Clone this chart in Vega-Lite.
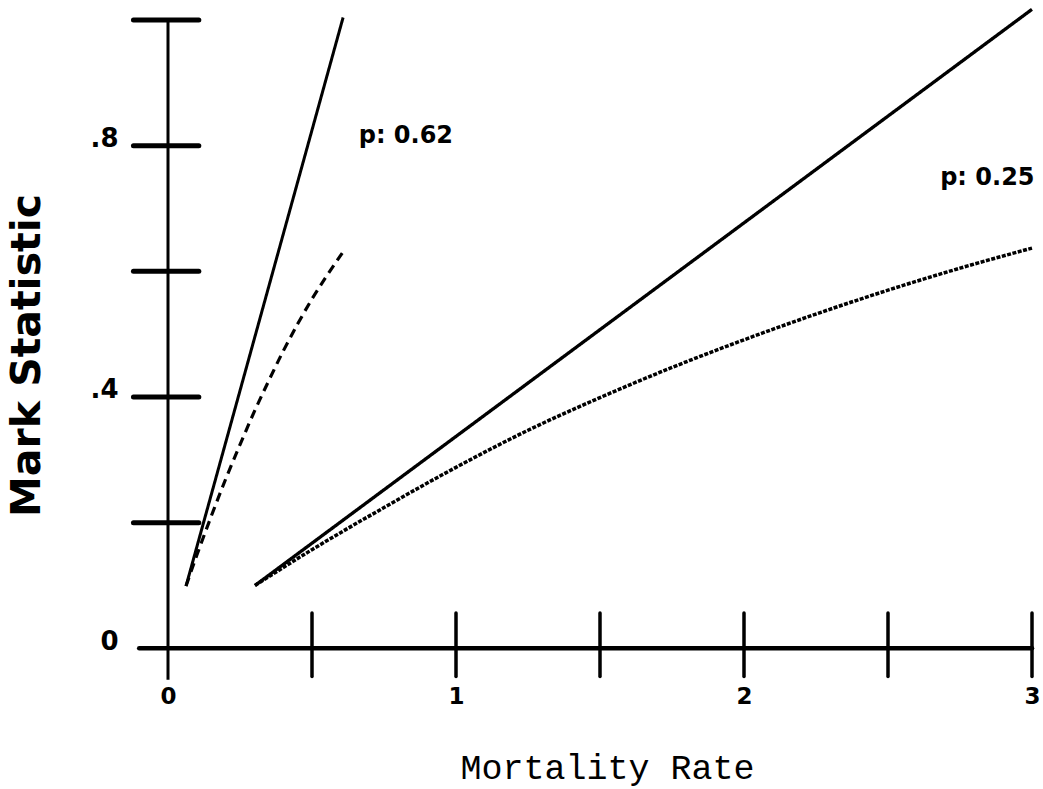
{
  "$schema": "https://vega.github.io/schema/vega-lite/v6.json",
  "width": 900,
  "height": 666,
  "autosize": {"type": "none"},
  "padding": {"left": 132, "top": 20, "right": 11, "bottom": 103},
  "background": "white",
  "config": {"view": {"stroke": null}},
  "datasets": {
    "xaxis": [{"x": -0.1, "x2": 3.0, "y": 0}],
    "yaxis": [{"x": 0, "y": -0.05, "y2": 1.0}],
    "xticks": [
      {"x": 0.5, "y": -0.045, "y2": 0.056},
      {"x": 1.0, "y": -0.045, "y2": 0.056},
      {"x": 1.5, "y": -0.045, "y2": 0.056},
      {"x": 2.0, "y": -0.045, "y2": 0.056},
      {"x": 2.5, "y": -0.045, "y2": 0.056},
      {"x": 3.0, "y": -0.045, "y2": 0.056}
    ],
    "yticks": [
      {"y": 0.2, "x": -0.12, "x2": 0.107},
      {"y": 0.4, "x": -0.12, "x2": 0.107},
      {"y": 0.6, "x": -0.12, "x2": 0.107},
      {"y": 0.8, "x": -0.12, "x2": 0.107},
      {"y": 1.0, "x": -0.12, "x2": 0.107}
    ],
    "curves": [
      {"curve": "p0.62 true", "x": 0.0625, "y": 0.099},
      {"curve": "p0.62 true", "x": 0.608, "y": 1.004},
      {"curve": "p0.62 estimate", "x": 0.0625, "y": 0.099},
      {"curve": "p0.62 estimate", "x": 0.1, "y": 0.148},
      {"curve": "p0.62 estimate", "x": 0.15, "y": 0.21},
      {"curve": "p0.62 estimate", "x": 0.2, "y": 0.269},
      {"curve": "p0.62 estimate", "x": 0.25, "y": 0.324},
      {"curve": "p0.62 estimate", "x": 0.3, "y": 0.377},
      {"curve": "p0.62 estimate", "x": 0.35, "y": 0.426},
      {"curve": "p0.62 estimate", "x": 0.4, "y": 0.473},
      {"curve": "p0.62 estimate", "x": 0.45, "y": 0.516},
      {"curve": "p0.62 estimate", "x": 0.5, "y": 0.556},
      {"curve": "p0.62 estimate", "x": 0.55, "y": 0.592},
      {"curve": "p0.62 estimate", "x": 0.608, "y": 0.631},
      {"curve": "p0.25 true", "x": 0.302, "y": 0.1},
      {"curve": "p0.25 true", "x": 3.0, "y": 1.017},
      {"curve": "p0.25 estimate", "x": 0.302, "y": 0.1},
      {"curve": "p0.25 estimate", "x": 0.5, "y": 0.157},
      {"curve": "p0.25 estimate", "x": 0.75, "y": 0.224},
      {"curve": "p0.25 estimate", "x": 1.0, "y": 0.288},
      {"curve": "p0.25 estimate", "x": 1.25, "y": 0.347},
      {"curve": "p0.25 estimate", "x": 1.5, "y": 0.399},
      {"curve": "p0.25 estimate", "x": 1.75, "y": 0.447},
      {"curve": "p0.25 estimate", "x": 2.0, "y": 0.491},
      {"curve": "p0.25 estimate", "x": 2.25, "y": 0.532},
      {"curve": "p0.25 estimate", "x": 2.5, "y": 0.57},
      {"curve": "p0.25 estimate", "x": 2.75, "y": 0.605},
      {"curve": "p0.25 estimate", "x": 3.0, "y": 0.637}
    ],
    "labels": [
      {"x": 0.826, "y": 0.816, "label": "p: 0.62"},
      {"x": 2.845, "y": 0.749, "label": "p: 0.25"}
    ]
  },
  "layer": [
    {
      "data": {"name": "xaxis"},
      "mark": {"type": "rule", "color": "black", "strokeWidth": 4.5, "strokeCap": "round"},
      "encoding": {
        "x": {
          "field": "x", "type": "quantitative",
          "scale": {"domain": [-0.125, 3], "nice": false, "zero": false},
          "axis": {
            "values": [0, 1, 2, 3],
            "format": "d",
            "domain": false, "ticks": false, "tickSize": 0, "grid": false,
            "labelPadding": 10, "labelBaseline": "middle",
            "labelFont": "DejaVu Sans", "labelFontWeight": "bold", "labelFontSize": 23,
            "labelColor": "black", "labelFlush": false,
            "title": "Mortality Rate",
            "titleFont": "Liberation Mono", "titleFontWeight": "normal", "titleFontSize": 35,
            "titleColor": "black", "titleX": 475, "titleY": 92, "titleBaseline": "alphabetic", "titleAlign": "center"
          }
        },
        "x2": {"field": "x2"},
        "y": {
          "field": "y", "type": "quantitative",
          "scale": {"domain": [-0.06, 1], "nice": false, "zero": false},
          "axis": {
            "values": [0, 0.4, 0.8],
            "domain": false, "ticks": false, "tickSize": 0, "grid": false,
            "labelPadding": 14, "labelOffset": -7,
            "labelExpr": "datum.value == 0 ? '0' : replace(format(datum.value, '.1f'), '0.', '.')",
            "labelFont": "DejaVu Sans", "labelFontWeight": "bold", "labelFontSize": 26,
            "labelColor": "black", "labelFlush": false,
            "title": "Mark Statistic",
            "titleFont": "DejaVu Sans", "titleFontWeight": "bold", "titleFontSize": 41,
            "titleColor": "black", "titleX": -105, "titleY": 335, "titleBaseline": "middle", "titleAlign": "center", "titleAngle": 270
          }
        }
      }
    },
    {
      "data": {"name": "yaxis"},
      "mark": {"type": "rule", "color": "black", "strokeWidth": 3},
      "encoding": {
        "x": {"field": "x", "type": "quantitative"},
        "y": {"field": "y", "type": "quantitative"},
        "y2": {"field": "y2"}
      }
    },
    {
      "data": {"name": "xticks"},
      "mark": {"type": "rule", "color": "black", "strokeWidth": 3.5, "strokeCap": "round"},
      "encoding": {
        "x": {"field": "x", "type": "quantitative"},
        "y": {"field": "y", "type": "quantitative"},
        "y2": {"field": "y2"}
      }
    },
    {
      "data": {"name": "yticks"},
      "mark": {"type": "rule", "color": "black", "strokeWidth": 5, "strokeCap": "round"},
      "encoding": {
        "x": {"field": "x", "type": "quantitative"},
        "x2": {"field": "x2"},
        "y": {"field": "y", "type": "quantitative"}
      }
    },
    {
      "data": {"name": "curves"},
      "mark": {"type": "line", "color": "black", "interpolate": "monotone"},
      "encoding": {
        "x": {"field": "x", "type": "quantitative"},
        "y": {"field": "y", "type": "quantitative"},
        "detail": {"field": "curve", "type": "nominal"},
        "strokeDash": {
          "field": "curve", "type": "nominal",
          "scale": {"domain": ["p0.62 true", "p0.62 estimate", "p0.25 true", "p0.25 estimate"], "range": [[1, 0], [9, 6], [1, 0], [4, 1.5]]},
          "legend": null
        },
        "strokeWidth": {
          "field": "curve", "type": "nominal",
          "scale": {"domain": ["p0.62 true", "p0.62 estimate", "p0.25 true", "p0.25 estimate"], "range": [3, 3.5, 4, 3.5]},
          "legend": null
        }
      }
    },
    {
      "data": {"name": "labels"},
      "mark": {"type": "text", "font": "DejaVu Sans", "fontWeight": "bold", "fontSize": 24, "color": "black", "align": "center", "baseline": "middle"},
      "encoding": {
        "x": {"field": "x", "type": "quantitative"},
        "y": {"field": "y", "type": "quantitative"},
        "text": {"field": "label"}
      }
    }
  ]
}
